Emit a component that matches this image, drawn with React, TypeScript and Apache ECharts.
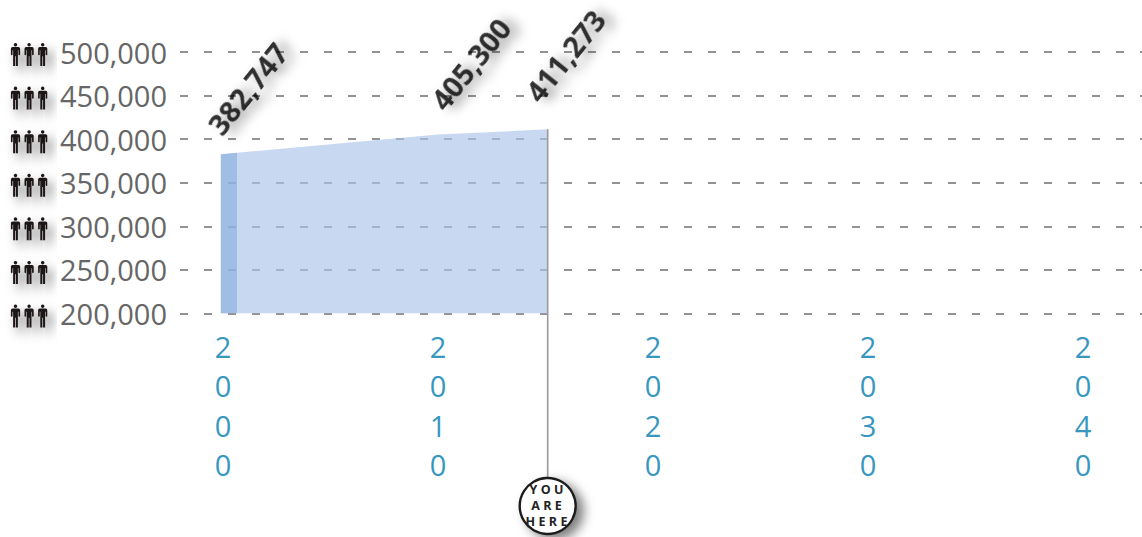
import React, { useEffect, useRef } from "react";
import * as echarts from "echarts";

// Population counts
const countYears = [2000, 2010, 2015.1];
const countValues = [382747, 405300, 411273];
const areaYears = [1999.9, 2010, 2015.1];
const bandYears = [1999.9, 2000.65];
const bandValues = [382747, 384400];
const decadeTicks = [2000, 2010, 2020, 2030, 2040];
const populationTicks = [200000, 250000, 300000, 350000, 400000, 450000, 500000];
const markerLines = ["YOU", "ARE", "HERE"];

const SANS = '"Open Sans", "Noto Sans", sans-serif';
const PERSON =
  "M50 0a19 19 0 1 1-.1 0zM18 44h64q18 0 18 18v62q0 9-9 9t-9-9V80h-6v170H54V145H46v105H24V80h-6v44q0 9-9 9t-9-9V62q0-18 18-18z";

const axisStart = 1998;
const LABEL_ANGLE = 51;

// ECharts applies a label's offset inside its rotated frame, so a screen-space
// shift has to be turned back by the label's angle first.
function unrotate(dx: number, dy: number) {
  const a = (LABEL_ANGLE * Math.PI) / 180;
  return [dx * Math.cos(a) - dy * Math.sin(a), dx * Math.sin(a) + dy * Math.cos(a)];
}

export default function App() {
  const ref = useRef<HTMLDivElement>(null);

  useEffect(() => {
    const chart = echarts.init(ref.current!, undefined, { renderer: "svg" });
    const labelShifts = [[24, -66], [32, -71], [17, -74]];

    chart.setOption({
      animation: false,
      backgroundColor: "#ffffff",
      grid: { left: 180, right: 0, top: 52, bottom: 223.5 },
      xAxis: {
        type: "value",
        min: axisStart,
        max: 2042.74,
        splitLine: { show: false },
        axisLine: { show: false },
        axisTick: { show: false },
        axisLabel: {
          customValues: decadeTicks,
          showMinLabel: true,
          showMaxLabel: true,
          margin: 13,
          color: "#3797bf",
          fontFamily: SANS,
          fontSize: 29,
          lineHeight: 39.5,
          formatter: (v: number) => String(v).split("").join("\n"),
        },
      },
      yAxis: {
        type: "value",
        min: 200000,
        max: 500000,
        interval: 50000,
        axisLine: { show: false },
        axisTick: { show: false },
        axisLabel: {
          margin: 13,
          color: "#666666",
          fontFamily: SANS,
          fontSize: 29,
          formatter: (v: number) => v.toLocaleString("en-US"),
        },
        splitLine: {
          show: true,
          lineStyle: { color: "#707070", width: 1.5, type: [8, 16] },
        },
      },
      series: [
        {
          type: "line",
          data: areaYears.map((y, i) => [y, countValues[i]]),
          symbol: "none",
          lineStyle: { width: 0 },
          areaStyle: { color: "#a9c3e8", opacity: 0.65 },
          z: 2,
        },
        {
          type: "line",
          data: bandYears.map((y, i) => [y, bandValues[i]]),
          symbol: "none",
          lineStyle: { width: 0 },
          areaStyle: { color: "#7fa9dc", opacity: 0.55 },
          z: 3,
        },
        {
          type: "scatter",
          symbolSize: 0,
          z: 6,
          data: countYears.map((y, i) => ({
            value: [y, countValues[i]],
            label: { offset: unrotate(labelShifts[i][0], labelShifts[i][1]) },
          })),
          label: {
            show: true,
            position: "inside",
            rotate: LABEL_ANGLE,
            align: "center",
            verticalAlign: "middle",
            color: "#000000",
            fontFamily: SANS,
            fontWeight: "bold",
            fontSize: 29,
            textShadowColor: "rgba(0,0,0,0.5)",
            textShadowBlur: 11,
            textShadowOffsetX: 6,
            textShadowOffsetY: 7,
            formatter: (p: any) => p.value[1].toLocaleString("en-US"),
          },
        },
        {
          // Three-person pictogram in front of each population tick label
          type: "custom",
          z: 5,
          clip: false,
          silent: true,
          data: populationTicks.map((t) => [axisStart, t]),
          renderItem: (_: any, api: any) => {
            const pos = api.coord([api.value(0), api.value(1)]);
            return {
              type: "group",
              children: [0, 1, 2].map((n) => ({
                type: "path",
                shape: {
                  pathData: PERSON,
                  x: 10.5 + n * 13.6,
                  y: pos[1] - 9,
                  width: 10,
                  height: 23,
                },
                style: {
                  fill: "#1c1516",
                  shadowColor: "rgba(0,0,0,0.5)",
                  shadowBlur: 11,
                  shadowOffsetX: 5,
                  shadowOffsetY: 6,
                },
              })),
            };
          },
        },
        {
          // Present-day pointer running from the area's edge down to the badge
          type: "custom",
          z: 7,
          clip: false,
          silent: true,
          data: [[countYears[2], countValues[2]]],
          renderItem: (_: any, api: any) => {
            const top = api.coord([api.value(0), api.value(1)]);
            const base = api.coord([api.value(0), 200000]);
            const cy = base[1] + 192.5;
            return {
              type: "group",
              children: [
                {
                  type: "line",
                  shape: { x1: top[0], y1: top[1], x2: top[0], y2: cy - 28 },
                  style: { stroke: "#9a9a9a", lineWidth: 1.6 },
                },
                {
                  type: "circle",
                  shape: { cx: top[0], cy, r: 28 },
                  style: {
                    fill: "#ffffff",
                    stroke: "#1f1f1f",
                    lineWidth: 2.4,
                    shadowColor: "rgba(0,0,0,0.5)",
                    shadowBlur: 11,
                    shadowOffsetX: 7,
                    shadowOffsetY: 5,
                  },
                },
                ...markerLines.map((t, i) => ({
                  type: "text",
                  style: {
                    x: top[0] + 0.5,
                    y: cy - 17 + i * 16,
                    text: t,
                    fill: "#222222",
                    font: `bold 12.5px ${SANS}`,
                    align: "center",
                    verticalAlign: "middle",
                  },
                })),
              ],
            };
          },
        },
      ],
    });

    // Wider tracking on the badge wording
    ref.current!.querySelectorAll("text").forEach((node) => {
      if (markerLines.includes(node.textContent || "")) {
        (node as SVGTextElement).style.letterSpacing = "3.4px";
      }
    });

    return () => chart.dispose();
  }, []);

  return (
    <div
      ref={ref}
      style={{ position: "absolute", left: 0, top: 0, width: 1142, height: 537 }}
    />
  );
}
